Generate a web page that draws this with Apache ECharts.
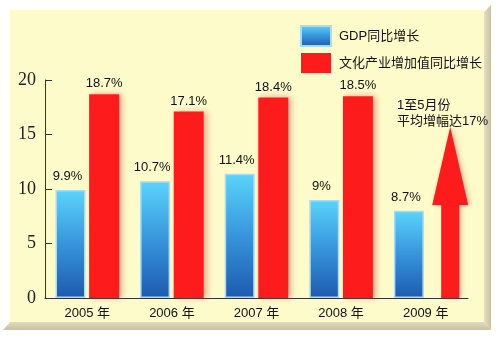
<!DOCTYPE html>
<html>
<head>
<meta charset="utf-8">
<script src="https://cdn.jsdelivr.net/npm/echarts@6/dist/echarts.min.js"></script>
<style>html,body{margin:0;padding:0;background:#fff;}#c{width:500px;height:338px;}</style>
</head>
<body>
<div id="c"></div>
<script>
var categories = ['2005 年', '2006 年', '2007 年', '2008 年', '2009 年'];
var gdpValues = [9.9, 10.7, 11.4, 9, 8.0];
var gdpLabels = ['9.9%', '10.7%', '11.4%', '9%', '8.7%'];
var cultureValues = [18.7, 17.1, 18.4, 18.5, '-'];
var cultureLabels = ['18.7%', '17.1%', '18.4%', '18.5%', ''];
var arrowValues = ['-', '-', '-', '-', 15.7];
var yTicks = [0, 5, 10, 15, 20];
var seriesNames = ['GDP同比增长', '文化产业增加值同比增长'];
var noteLines = ['1至5月份', '平均增幅达17%'];

var cjk = '"Liberation Sans", Arial, "Noto Sans CJK SC", sans-serif';
var chart = echarts.init(document.getElementById('c'), null, {renderer: 'canvas'});

var blueGrad = new echarts.graphic.LinearGradient(0, 0, 0, 1, [
  {offset: 0, color: '#5ad4fb'},
  {offset: 0.5, color: '#3795dc'},
  {offset: 1, color: '#1d5aae'}
]);

chart.setOption({
  backgroundColor: '#ffffff',
  animation: false,
  graphic: [
    {type: 'rect', z: -10, shape: {x: 10, y: 10, width: 474, height: 312}, style: {fill: '#fefbca'}},
    {type: 'polygon', z: -10, shape: {points: [[484, 12], [491, 5], [491, 330], [484, 322]]},
      style: {fill: new echarts.graphic.LinearGradient(0, 0, 1, 0, [{offset: 0, color: '#e6dfc0'}, {offset: 1, color: '#c9c1a0'}])}},
    {type: 'polygon', z: -10, shape: {points: [[10, 322], [484, 322], [491, 330], [3, 330]]},
      style: {fill: new echarts.graphic.LinearGradient(0, 0, 0, 1, [{offset: 0, color: '#e2dbbb'}, {offset: 1, color: '#c9c1a0'}])}},
    {type: 'text', z: 10, left: 397, top: 97,
      style: {text: noteLines.join('\n'), font: '13px ' + cjk, fill: '#111', lineHeight: 16}}
  ],
  legend: {
    data: seriesNames,
    orient: 'vertical',
    left: 295,
    top: 20,
    itemWidth: 30,
    itemHeight: 20,
    itemGap: 6,
    icon: 'rect',
    textStyle: {fontSize: 13, fontFamily: cjk, color: '#111', padding: [0, 0, 0, 3]}
  },
  grid: {left: 45, right: 32, top: 80, bottom: 40, containLabel: false},
  xAxis: {
    type: 'category',
    data: categories,
    axisLine: {lineStyle: {color: '#333', width: 1}},
    axisTick: {inside: true, length: 5, lineStyle: {color: '#333'}},
    axisLabel: {fontSize: 13, fontFamily: cjk, color: '#111', margin: 9}
  },
  yAxis: {
    type: 'value',
    min: 0, max: 20, interval: 5,
    splitLine: {show: false},
    axisLine: {show: true, lineStyle: {color: '#333', width: 1}},
    axisTick: {show: true, inside: true, length: 7, lineStyle: {color: '#333'}},
    axisLabel: {fontSize: 18, fontFamily: 'Liberation Serif', color: '#222', margin: 9,
      formatter: function (v) { return yTicks.indexOf(v) >= 0 ? String(v) : ''; }}
  },
  series: [
    {
      name: seriesNames[0], type: 'bar', data: gdpValues,
      barWidth: 30, barGap: '12%',
      itemStyle: {color: blueGrad, borderColor: '#a6dcf6', borderWidth: 1.5},
      label: {show: true, position: 'top', distance: 7, offset: [-3, 0], fontSize: 13, fontFamily: cjk, color: '#111',
        formatter: function (p) { return gdpLabels[p.dataIndex]; }}
    },
    {
      name: seriesNames[1], type: 'bar', data: cultureValues,
      barWidth: 30,
      itemStyle: {color: '#fe1b1b', shadowColor: 'rgba(190,70,60,0.45)', shadowBlur: 6, shadowOffsetX: 3},
      label: {show: true, position: 'top', distance: 4, fontSize: 13, fontFamily: cjk, color: '#111',
        formatter: function (p) { return cultureLabels[p.dataIndex]; }}
    },
    {
      name: 'arrow', type: 'pictorialBar', data: arrowValues,
      symbol: 'path://M18 0 L36 78 L27 78 L27 171 L9 171 L9 78 L0 78 Z',
      symbolSize: [36, '100%'],
      symbolPosition: 'start',
      symbolOffset: [24.5, 0],
      itemStyle: {color: '#fe1b1b', shadowColor: 'rgba(190,70,60,0.4)', shadowBlur: 5, shadowOffsetX: 2},
      z: 3
    }
  ]
});
</script>
</body>
</html>
